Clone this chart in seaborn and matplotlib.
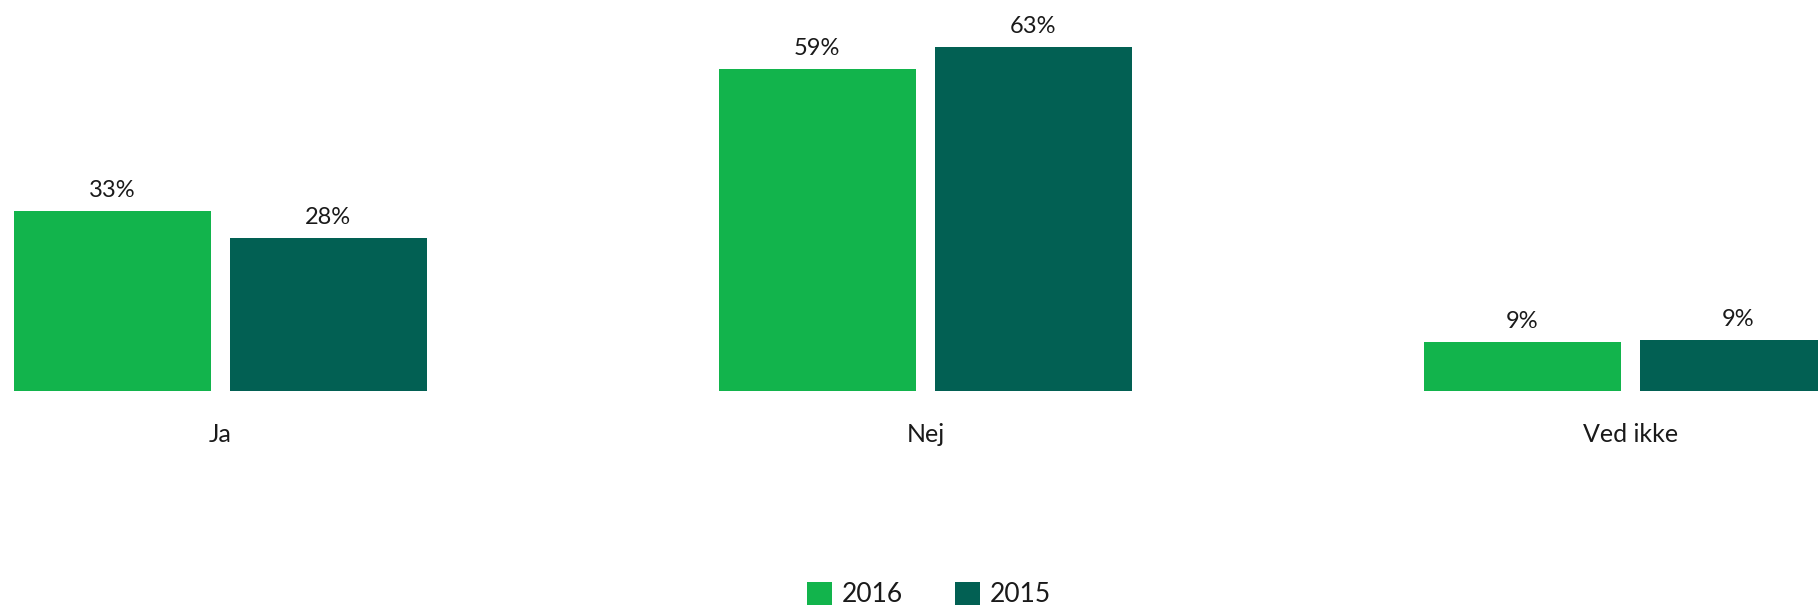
import matplotlib
matplotlib.use("Agg")
import matplotlib.pyplot as plt
import seaborn as sns
import pandas as pd
from matplotlib.patches import Patch

categories = ["Ja", "Nej", "Ved ikke"]
years = ["2016", "2015"]
values_2016 = [33, 59, 9]
values_2015 = [28, 63, 9.4]
colors = {"2016": "#12B44C", "2015": "#026053"}

df = pd.DataFrame({
    "Svar": categories * 2,
    "År": ["2016"] * 3 + ["2015"] * 3,
    "Andel": values_2016 + values_2015,
})

sns.set_theme(style="white")
plt.rcParams["font.family"] = ["Lato", "DejaVu Sans"]

fig = plt.figure(figsize=(18.18, 6.10), dpi=100)
ax = fig.add_axes([0, (610 - 391) / 610, 1, 391 / 610])

sns.barplot(data=df, x="Svar", y="Andel", hue="År", hue_order=years,
            palette=colors, width=0.613, gap=0.088, ax=ax, legend=False,
            saturation=1, linewidth=0)

for cont in ax.containers:
    for bar in cont:
        h = bar.get_height()
        ax.annotate(f"{h:.0f}%", (bar.get_x() + bar.get_width() / 2, h),
                    xytext=(0, 7), textcoords="offset points",
                    ha="center", va="bottom", fontsize=17, color="#1a1a1a")

ax.set_xlim(-0.3125, 2.266)
ax.set_ylim(0, 71.6)
ax.set_xlabel("")
ax.set_ylabel("")
ax.set_yticks([])
ax.tick_params(axis="x", length=0, pad=23, labelsize=18, labelcolor="#1a1a1a")
sns.despine(ax=ax, left=True, bottom=True, top=True, right=True)
ax.patch.set_alpha(0)

handles = [Patch(facecolor=colors[y], edgecolor="none", label=y) for y in years]
fig.legend(handles=handles, loc="center", bbox_to_anchor=(0.511, 0.025),
           ncol=2, frameon=False, fontsize=19, handlelength=0.95,
           handleheight=0.95, handletextpad=0.35, columnspacing=2.0,
           labelcolor="#1a1a1a")

fig.savefig("out.png", dpi=100)
